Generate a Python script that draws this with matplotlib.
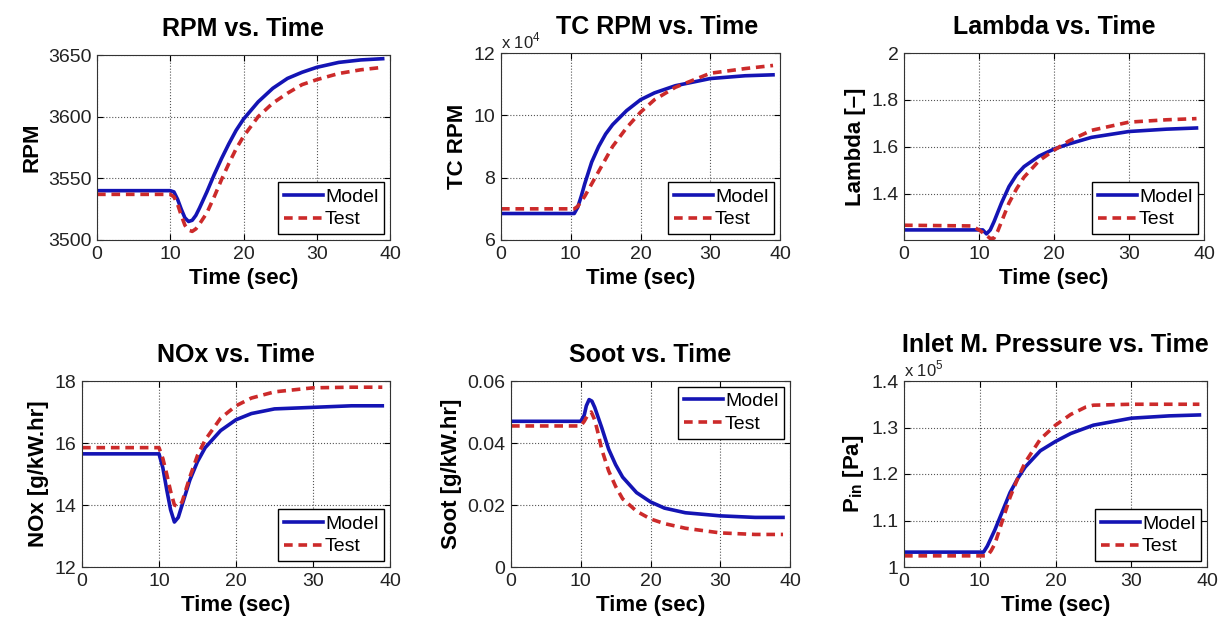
import matplotlib
matplotlib.use('Agg')
import matplotlib.pyplot as plt

plt.rcParams['font.family'] = ['Liberation Sans', 'DejaVu Sans']
plt.rcParams['mathtext.fontset'] = 'custom'
plt.rcParams['mathtext.rm'] = 'Liberation Sans'
plt.rcParams['mathtext.bf'] = 'Liberation Sans:bold'

# 数据：时间点（秒）与各工况曲线
t_rpm = [0, 10, 10.5, 11, 11.5, 12, 12.5, 13, 13.5, 14, 15, 16, 17, 18, 19, 20, 22, 24, 26, 28, 30, 33, 36, 39]
rpm_model = [3540, 3540, 3539, 3533, 3525, 3518, 3515, 3516, 3520, 3526, 3539, 3553, 3566, 3578, 3589,
             3598, 3612, 3623, 3631, 3636, 3640, 3644, 3646, 3647]
t_rpm_test = [0, 10, 10.5, 11, 11.5, 12, 12.5, 13, 13.5, 14, 15, 16, 17, 18, 19, 20, 22, 24, 26, 28, 30, 33, 36, 39]
rpm_test = [3537, 3537, 3535, 3529, 3520, 3512, 3508, 3507, 3509, 3513, 3522, 3535, 3549, 3562, 3574,
            3584, 3600, 3611, 3619, 3626, 3630, 3635, 3638, 3640]

t_tc = [0, 10.5, 11, 11.5, 12, 12.5, 13, 14, 15, 16, 18, 20, 22, 25, 30, 35, 39]
tc_model = [6.85, 6.85, 7.05, 7.4, 7.8, 8.15, 8.5, 9.0, 9.4, 9.7, 10.15, 10.5, 10.72, 10.95, 11.18,
            11.27, 11.3]
t_tc_test = [0, 10.5, 11, 12, 13, 14, 15, 16, 18, 20, 22, 25, 30, 35, 39]
tc_test = [7.0, 7.0, 7.08, 7.4, 7.8, 8.2, 8.6, 9.0, 9.6, 10.1, 10.5, 10.9, 11.35, 11.5, 11.6]

t_lam = [0, 10.5, 11, 11.5, 12, 13, 14, 15, 16, 18, 20, 22, 25, 30, 35, 39]
lam_model = [1.245, 1.245, 1.228, 1.245, 1.28, 1.36, 1.43, 1.48, 1.515, 1.56, 1.59, 1.612, 1.64,
             1.665, 1.675, 1.68]
t_lam_test = [0, 9, 10, 11, 11.5, 12, 12.5, 13, 14, 15, 16, 18, 20, 22, 25, 30, 35, 39]
lam_test = [1.265, 1.262, 1.245, 1.222, 1.208, 1.21, 1.24, 1.28, 1.36, 1.42, 1.47, 1.54, 1.585,
            1.625, 1.67, 1.705, 1.715, 1.72]

t_nox = [0, 10, 10.5, 11, 11.5, 12, 12.5, 13, 14, 15, 16, 18, 20, 22, 25, 30, 35, 39]
nox_model = [15.65, 15.65, 15.2, 14.5, 13.85, 13.45, 13.6, 14.0, 14.8, 15.4, 15.85, 16.4, 16.75,
             16.95, 17.1, 17.15, 17.2, 17.2]
nox_test = [15.85, 15.85, 15.5, 15.0, 14.45, 14.0, 13.95, 14.1, 14.9, 15.6, 16.1, 16.8, 17.2,
            17.45, 17.65, 17.78, 17.8, 17.8]

t_soot = [0, 10, 10.5, 10.8, 11.2, 11.6, 12, 13, 14, 15, 16, 18, 20, 22, 25, 30, 35, 39]
soot_model = [0.047, 0.047, 0.049, 0.052, 0.054, 0.0535, 0.0515, 0.045, 0.038, 0.033, 0.029, 0.024,
              0.021, 0.019, 0.0175, 0.0165, 0.016, 0.016]
t_soot_test = [0, 10, 10.5, 11, 11.5, 12, 12.5, 13, 14, 15, 16, 18, 20, 22, 25, 30, 35, 39]
soot_test = [0.0455, 0.0455, 0.047, 0.049, 0.050, 0.0475, 0.043, 0.038, 0.031, 0.026, 0.022, 0.018,
             0.0155, 0.014, 0.0125, 0.011, 0.0105, 0.0105]

t_p = [0, 10.5, 11, 12, 13, 14, 15, 16, 18, 20, 22, 25, 30, 35, 39]
p_model = [1.032, 1.032, 1.045, 1.08, 1.12, 1.16, 1.19, 1.215, 1.25, 1.27, 1.287, 1.305, 1.32,
           1.325, 1.327]
t_p_test = [0, 11, 11.5, 12, 13, 14, 15, 16, 18, 20, 22, 24, 25, 30, 35, 39]
p_test = [1.024, 1.024, 1.035, 1.05, 1.10, 1.15, 1.19, 1.225, 1.275, 1.305, 1.328, 1.344, 1.348,
          1.35, 1.35, 1.35]

W, H = 1227, 628
fig = plt.figure(figsize=(W / 100, H / 100), dpi=100)

blue = '#1414b4'
red = '#cc2a2a'


def make_ax(l, r, top, bot):
    return fig.add_axes([l / W, (H - bot) / H, (r - l) / W, (bot - top) / H])


def style(ax, title, ylabel, ylim, yticks, legloc, expo=None, tpad=14, tx=0.5):
    ax.set_xlim(0, 40)
    ax.set_xticks([0, 10, 20, 30, 40])
    ax.set_ylim(*ylim)
    ax.set_yticks(yticks)
    ax.grid(True, linestyle=':', color='#555555', linewidth=0.8)
    ax.tick_params(direction='in', top=True, right=True, labelsize=14, length=4,
                   labelcolor='#222222', pad=4)
    for s in ax.spines.values():
        s.set_color('#333333')
    ax.set_title(title, fontsize=18, fontweight='bold', pad=tpad, x=tx)
    ax.set_xlabel('Time (sec)', fontsize=16, fontweight='bold')
    ax.set_ylabel(ylabel, fontsize=16, fontweight='bold')
    leg = ax.legend(loc=legloc, fontsize=14, fancybox=False, framealpha=1, edgecolor='black',
                    handlelength=2.0, handletextpad=0.1, borderpad=0.3, labelspacing=0.25,
                    borderaxespad=0.3)
    leg.get_frame().set_linewidth(1.0)
    if expo:
        ax.text(0.0, 1.01, 'x 10$^{%s}$' % expo, transform=ax.transAxes, fontsize=12,
                ha='left', va='bottom', color='#222222')


def draw(ax, tm, ym, tt, yt):
    ax.plot(tm, ym, color=blue, linewidth=2.6, label='Model')
    ax.plot(tt, yt, color=red, linewidth=2.6, linestyle=(0, (2.4, 1.6)), label='Test')


ax1 = make_ax(97, 390, 55, 240)
draw(ax1, t_rpm, rpm_model, t_rpm_test, rpm_test)
style(ax1, 'RPM vs. Time', 'RPM', (3500, 3650), [3500, 3550, 3600, 3650], 'lower right')

ax2 = make_ax(501, 780, 53, 240)
draw(ax2, t_tc, tc_model, t_tc_test, tc_test)
style(ax2, 'TC RPM vs. Time', 'TC RPM', (6, 12), [6, 8, 10, 12], 'lower right', expo='4', tx=0.56)

ax3 = make_ax(904, 1204, 53, 240)
draw(ax3, t_lam, lam_model, t_lam_test, lam_test)
style(ax3, 'Lambda vs. Time', 'Lambda [\u2013]', (1.202, 2.0), [1.4, 1.6, 1.8, 2.0], 'lower right')
ax3.set_yticklabels(['1.4', '1.6', '1.8', '2'])

ax4 = make_ax(82, 390, 381, 567)
draw(ax4, t_nox, nox_model, t_nox, nox_test)
style(ax4, 'NOx vs. Time', 'NOx [g/kW.hr]', (12, 18), [12, 14, 16, 18], 'lower right')

ax5 = make_ax(511, 790, 381, 567)
draw(ax5, t_soot, soot_model, t_soot_test, soot_test)
style(ax5, 'Soot vs. Time', 'Soot [g/kW.hr]', (0, 0.06), [0, 0.02, 0.04, 0.06], 'upper right')
ax5.set_yticklabels(['0', '0.02', '0.04', '0.06'])

ax6 = make_ax(904, 1207, 381, 567)
draw(ax6, t_p, p_model, t_p_test, p_test)
style(ax6, 'Inlet M. Pressure vs. Time', r'P$_{\mathbf{in}}$ [Pa]', (1.0, 1.4),
      [1.0, 1.1, 1.2, 1.3, 1.4], 'lower right', expo='5', tpad=21)
ax6.set_yticklabels(['1', '1.1', '1.2', '1.3', '1.4'])

fig.savefig('out.png', dpi=100)
